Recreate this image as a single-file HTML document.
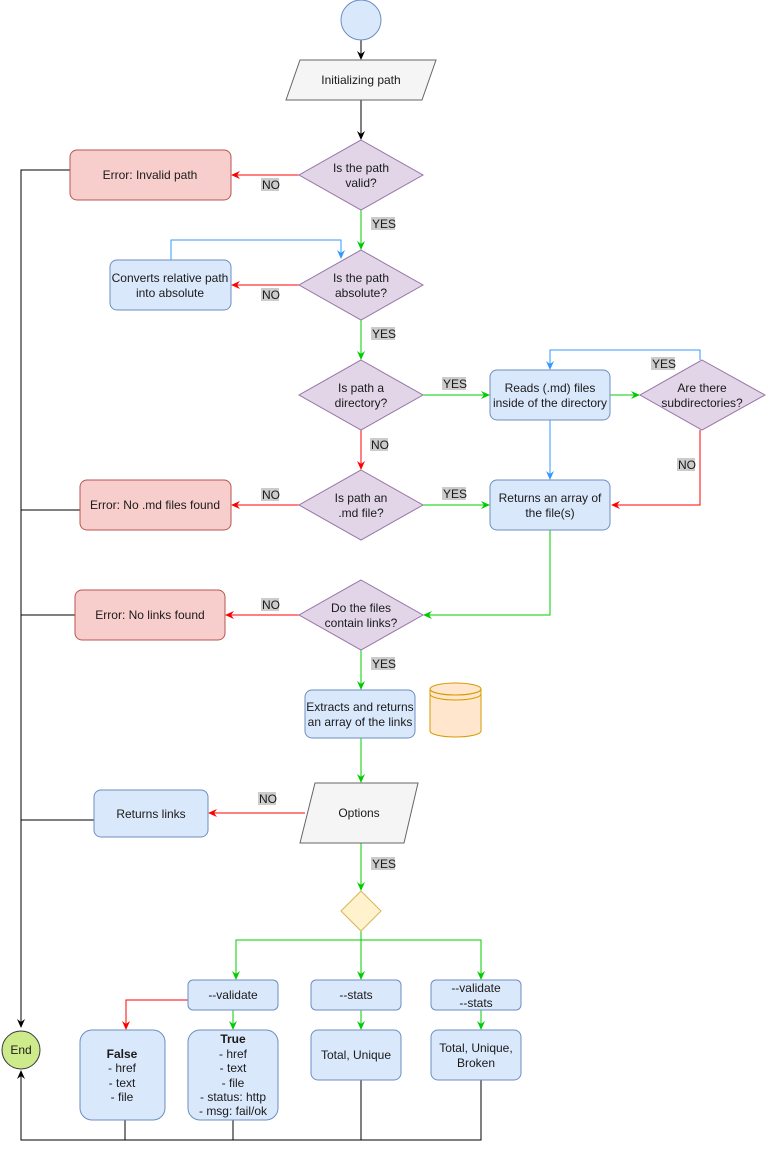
<!DOCTYPE html>
<html><head><meta charset="utf-8"><style>
html,body{margin:0;padding:0;background:#fff}
svg{display:block}
text{font-family:"Liberation Sans",Arial,sans-serif;font-size:12px;fill:#1a1a1a}
.lbl{font-size:12px;fill:#1a1a1a}
</style></head><body>
<svg width="766" height="1149" viewBox="0 0 766 1149" xmlns="http://www.w3.org/2000/svg">
<defs>
<marker id="ak" markerWidth="10" markerHeight="10" refX="8" refY="5" orient="auto" markerUnits="userSpaceOnUse"><path d="M0,1 L9,5 L0,9 L3,5z" fill="#000"/></marker>
<marker id="ag" markerWidth="10" markerHeight="10" refX="8" refY="5" orient="auto" markerUnits="userSpaceOnUse"><path d="M0,1 L9,5 L0,9 L3,5z" fill="#00cc00"/></marker>
<marker id="ar" markerWidth="10" markerHeight="10" refX="8" refY="5" orient="auto" markerUnits="userSpaceOnUse"><path d="M0,1 L9,5 L0,9 L3,5z" fill="#ff0000"/></marker>
<marker id="ab" markerWidth="10" markerHeight="10" refX="8" refY="5" orient="auto" markerUnits="userSpaceOnUse"><path d="M0,1 L9,5 L0,9 L3,5z" fill="#3399ff"/></marker>
</defs>
<g fill="none" stroke-width="1">
<!-- black -->
<path d="M361,40 V59" stroke="#000" marker-end="url(#ak)"/>
<path d="M361,100 V139" stroke="#000" marker-end="url(#ak)"/>
<path d="M70,170 H21 V1027" stroke="#000" marker-end="url(#ak)"/>
<path d="M80,510 H21 M75,615 H21 M94,820 H21" stroke="#000"/>
<path d="M125,1120 V1140 M233,1120 V1140 M361,1080 V1140 M481,1080 V1140 H21 V1071" stroke="#000" marker-end="url(#ak)"/>
<!-- green -->
<path d="M361,210 V249" stroke="#00cc00" marker-end="url(#ag)"/>
<path d="M361,320 V359" stroke="#00cc00" marker-end="url(#ag)"/>
<path d="M423,395 H489" stroke="#00cc00" marker-end="url(#ag)"/>
<path d="M610,395 H639" stroke="#00cc00" marker-end="url(#ag)"/>
<path d="M423,505 H489" stroke="#00cc00" marker-end="url(#ag)"/>
<path d="M550,530 V615 H424" stroke="#00cc00" marker-end="url(#ag)"/>
<path d="M361,650 V689" stroke="#00cc00" marker-end="url(#ag)"/>
<path d="M361,738 V782" stroke="#00cc00" marker-end="url(#ag)"/>
<path d="M361,843 V890" stroke="#00cc00" marker-end="url(#ag)"/>
<path d="M361,931 V979" stroke="#00cc00" marker-end="url(#ag)"/>
<path d="M361,940 H236 V979" stroke="#00cc00" marker-end="url(#ag)"/>
<path d="M361,940 H481 V979" stroke="#00cc00" marker-end="url(#ag)"/>
<path d="M233,1010 V1029" stroke="#00cc00" marker-end="url(#ag)"/>
<path d="M361,1010 V1029" stroke="#00cc00" marker-end="url(#ag)"/>
<path d="M481,1010 V1029" stroke="#00cc00" marker-end="url(#ag)"/>
<!-- red -->
<path d="M299,175 H232" stroke="#ff0000" marker-end="url(#ar)"/>
<path d="M299,285 H232" stroke="#ff0000" marker-end="url(#ar)"/>
<path d="M361,430 V469" stroke="#ff0000" marker-end="url(#ar)"/>
<path d="M299,505 H232" stroke="#ff0000" marker-end="url(#ar)"/>
<path d="M700,430 V505 H612" stroke="#ff0000" marker-end="url(#ar)"/>
<path d="M299,615 H226" stroke="#ff0000" marker-end="url(#ar)"/>
<path d="M305,813 H209" stroke="#ff0000" marker-end="url(#ar)"/>
<path d="M188,1000 H126 V1029" stroke="#ff0000" marker-end="url(#ar)"/>
<!-- blue -->
<path d="M171,260 V240 H341 V258" stroke="#3399ff" marker-end="url(#ab)"/>
<path d="M700,360 V350 H550 V369" stroke="#3399ff" marker-end="url(#ab)"/>
<path d="M550,420 V479" stroke="#3399ff" marker-end="url(#ab)"/>
</g>
<!-- shapes -->
<circle cx="361" cy="20" r="20" fill="#dae8fc" stroke="#6c8ebf"/>
<polygon points="300,60 436,60 422,100 286,100" fill="#f5f5f5" stroke="#666"/>
<text x="361" y="84" text-anchor="middle" fill="#333">Initializing path</text>

<g fill="#e1d5e7" stroke="#9673a6">
<polygon points="361,140 423,175 361,210 299,175"/>
<polygon points="361,250 423,285 361,320 299,285"/>
<polygon points="361,360 423,395 361,430 299,395"/>
<polygon points="702,360 765,395 702,430 640,395"/>
<polygon points="361,470 423,505 361,540 299,505"/>
<polygon points="361,580 423,615 361,650 299,615"/>
</g>
<g text-anchor="middle">
<text x="361" y="172">Is the path</text><text x="361" y="187">valid?</text>
<text x="361" y="282">Is the path</text><text x="361" y="297">absolute?</text>
<text x="361" y="392">Is path a</text><text x="361" y="407">directory?</text>
<text x="702" y="392">Are there</text><text x="702" y="407">subdirectories?</text>
<text x="361" y="502">Is path an</text><text x="361" y="517">.md file?</text>
<text x="361" y="612">Do the files</text><text x="361" y="627">contain links?</text>
</g>

<g fill="#f8cecc" stroke="#b85450">
<rect x="70" y="150" width="161" height="50" rx="7"/>
<rect x="80" y="480" width="151" height="50" rx="7"/>
<rect x="75" y="590" width="150" height="50" rx="7"/>
</g>
<g text-anchor="middle">
<text x="150" y="179">Error: Invalid path</text>
<text x="155" y="509">Error: No .md files found</text>
<text x="150" y="619">Error: No links found</text>
</g>

<g fill="#dae8fc" stroke="#6c8ebf">
<rect x="110" y="260" width="121" height="50" rx="7"/>
<rect x="490" y="370" width="120" height="50" rx="7"/>
<rect x="490" y="480" width="120" height="50" rx="7"/>
<rect x="305" y="690" width="110" height="48" rx="7"/>
<rect x="94" y="790" width="114" height="47" rx="7"/>
<rect x="188" y="980" width="90" height="30" rx="5"/>
<rect x="311" y="980" width="90" height="30" rx="5"/>
<rect x="431" y="980" width="90" height="30" rx="5"/>
<rect x="80" y="1030" width="85" height="90" rx="12"/>
<rect x="188" y="1030" width="90" height="90" rx="12"/>
<rect x="311" y="1030" width="90" height="50" rx="7"/>
<rect x="431" y="1030" width="90" height="50" rx="7"/>
</g>
<g text-anchor="middle">
<text x="170" y="282">Converts relative path</text><text x="170" y="297">into absolute</text>
<text x="550" y="392">Reads (.md) files</text><text x="550" y="407">inside of the directory</text>
<text x="550" y="502">Returns an array of</text><text x="550" y="517">the file(s)</text>
<text x="360" y="711">Extracts and returns</text><text x="360" y="726">an array of the links</text>
<text x="151" y="818">Returns links</text>
<text x="233" y="999">--validate</text>
<text x="356" y="999">--stats</text>
<text x="476" y="992">--validate</text><text x="476" y="1007">--stats</text>
<text x="122" y="1058" font-weight="bold">False</text><text x="122" y="1072">- href</text><text x="122" y="1087">- text</text><text x="122" y="1101">- file</text>
<text x="233" y="1043" font-weight="bold">True</text><text x="233" y="1058">- href</text><text x="233" y="1072">- text</text><text x="233" y="1087">- file</text><text x="233" y="1101">- status: http</text><text x="233" y="1115">- msg: fail/ok</text>
<text x="356" y="1059">Total, Unique</text>
<text x="476" y="1052">Total, Unique,</text><text x="476" y="1067">Broken</text>
</g>

<!-- cylinder -->
<path d="M430,689 V731 A25.5,6 0 0 0 481,731 V689" fill="#ffe6cc" stroke="#d79b00"/>
<ellipse cx="455.5" cy="689" rx="25.5" ry="6" fill="#ffe6cc" stroke="#d79b00"/>
<path d="M430,689 A25.5,6 0 0 0 481,689 M430,694 A25.5,6 0 0 0 481,694" fill="none" stroke="#d79b00"/>

<polygon points="315,783 418,783 404,843 300,843" fill="#f5f5f5" stroke="#666"/>
<text x="359" y="817" text-anchor="middle" fill="#333">Options</text>

<polygon points="361,891 381,911 361,931 341,911" fill="#fff2cc" stroke="#d6b656"/>

<circle cx="21" cy="1050" r="19" fill="#cdeb8b" stroke="#36393d"/>
<text x="21" y="1054" text-anchor="middle">End</text>

<!-- edge labels -->
<g fill="#cccccc">
<rect x="261" y="178" width="18" height="13"/>
<rect x="371" y="217" width="24" height="13"/>
<rect x="261" y="288" width="18" height="13"/>
<rect x="371" y="327" width="24" height="13"/>
<rect x="442" y="377" width="24" height="13"/>
<rect x="651" y="357" width="24" height="13"/>
<rect x="370" y="438" width="18" height="13"/>
<rect x="677" y="458" width="18" height="13"/>
<rect x="261" y="488" width="18" height="13"/>
<rect x="442" y="487" width="24" height="13"/>
<rect x="261" y="598" width="18" height="13"/>
<rect x="371" y="657" width="24" height="13"/>
<rect x="258" y="792" width="18" height="13"/>
<rect x="371" y="857" width="24" height="13"/>
</g>
<g class="lbl" font-size="11.5">
<text x="262" y="189">NO</text><text x="372" y="228">YES</text>
<text x="262" y="299">NO</text><text x="372" y="338">YES</text>
<text x="443" y="388">YES</text><text x="652" y="368">YES</text>
<text x="371" y="449">NO</text><text x="678" y="469">NO</text>
<text x="262" y="499">NO</text><text x="443" y="498">YES</text>
<text x="262" y="609">NO</text><text x="372" y="668">YES</text>
<text x="259" y="803">NO</text><text x="372" y="868">YES</text>
</g>
</svg>
</body></html>
